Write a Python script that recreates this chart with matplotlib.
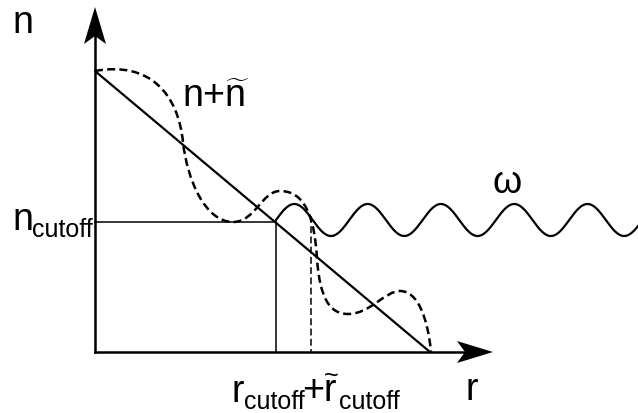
import numpy as np
import matplotlib
matplotlib.use("Agg")
import matplotlib.pyplot as plt
from matplotlib.path import Path
from matplotlib.patches import PathPatch, Polygon

plt.rcParams['font.family'] = ['Liberation Sans', 'DejaVu Sans']
plt.rcParams['mathtext.fontset'] = 'custom'
plt.rcParams['mathtext.rm'] = 'Liberation Sans'
plt.rcParams['mathtext.it'] = 'Liberation Sans'

# sketch coordinates (pixels, y downward)
origin = (95, 353)
y_axis_top = 8
x_axis_end = 493

# unperturbed density profile n(r)
prof_r = [95, 430]
prof_n = [72, 353]

# cutoff point
r_cut, n_cut = 276, 223
r_cut_pert = 311
n_cut_pert = 217

# perturbed profile n + n~ : start point, then cubic bezier (ctrl1, ctrl2, end) segments
pert_start = (95, 72)
pert_segments = [
    [(150, 62), (178, 95), (183, 143)],
    [(187, 180), (205, 223), (233, 223)],
    [(255, 223), (262, 192), (280, 192)],
    [(298, 192), (314, 205), (317, 260)],
    [(320, 300), (330, 315), (348, 315)],
    [(370, 315), (385, 292), (400, 292)],
    [(418, 292), (428, 320), (431, 353)],
]

# incoming wave of frequency omega
wave_start, wave_end = 276, 638
wave_center = 221
wave_amp = 16
wave_period = 73.3

fig = plt.figure(figsize=(6.38, 4.14), dpi=100)
ax = fig.add_axes([0, 0, 1, 1])
ax.set_xlim(0, 638)
ax.set_ylim(414, 0)
ax.axis('off')

# axes with arrowheads
ax.plot([origin[0], origin[0]], [origin[1], y_axis_top + 20], color='black', lw=1.8)
ax.plot([origin[0], x_axis_end - 20], [origin[1], origin[1]], color='black', lw=1.8)
ax.add_patch(Polygon([(95, y_axis_top), (106, 45), (95, 37), (84, 45)],
                     closed=True, color='black', lw=0))
ax.add_patch(Polygon([(x_axis_end, 353), (457, 342), (465, 353), (457, 364)],
                     closed=True, color='black', lw=0))

# profile
ax.plot(prof_r, prof_n, color='black', lw=1.6, solid_capstyle='round')

# cutoff guide lines
ax.plot([origin[0], r_cut], [n_cut, n_cut], color='black', lw=1.1)
ax.plot([r_cut, r_cut], [n_cut, origin[1]], color='black', lw=1.1)
ax.plot([r_cut_pert, r_cut_pert], [n_cut_pert, origin[1]], color='black', lw=1.1,
        dashes=(4.5, 2.2))

# perturbed profile
verts = [pert_start]
codes = [Path.MOVETO]
for seg in pert_segments:
    verts += seg
    codes += [Path.CURVE4] * 3
ax.add_patch(PathPatch(Path(verts, codes), fill=False, edgecolor='black', lw=1.8,
                       linestyle=(0, (3.2, 1.7))))

# wave
wr = np.linspace(wave_start, wave_end, 600)
wn = wave_center - wave_amp * np.sin(2 * np.pi * (wr - wave_start) / wave_period)
ax.plot(wr, wn, color='black', lw=1.6)

# labels
fs = 27
sub = 18
ax.text(12, 33, 'n', fontsize=fs, ha='left', va='baseline')

ax.text(182, 107, r'n+$\widetilde{\mathrm{n}}$', fontsize=fs, ha='left', va='baseline')

ax.text(12, 230, 'n', fontsize=fs, ha='left', va='baseline')
ax.text(32, 237, 'cutoff', fontsize=sub, ha='left', va='baseline')

ax.text(493, 193, 'ω', fontsize=fs, ha='left', va='baseline')
ax.text(465, 400, 'r', fontsize=fs, ha='left', va='baseline')

ax.text(232, 402, 'r', fontsize=fs, ha='left', va='baseline')
ax.text(244, 409, 'cutoff', fontsize=sub, ha='left', va='baseline')
ax.text(302, 402, r'+$\widetilde{\mathrm{r}}$', fontsize=fs, ha='left', va='baseline')
ax.text(339, 409, 'cutoff', fontsize=sub, ha='left', va='baseline')

fig.savefig('out.png', dpi=100)
